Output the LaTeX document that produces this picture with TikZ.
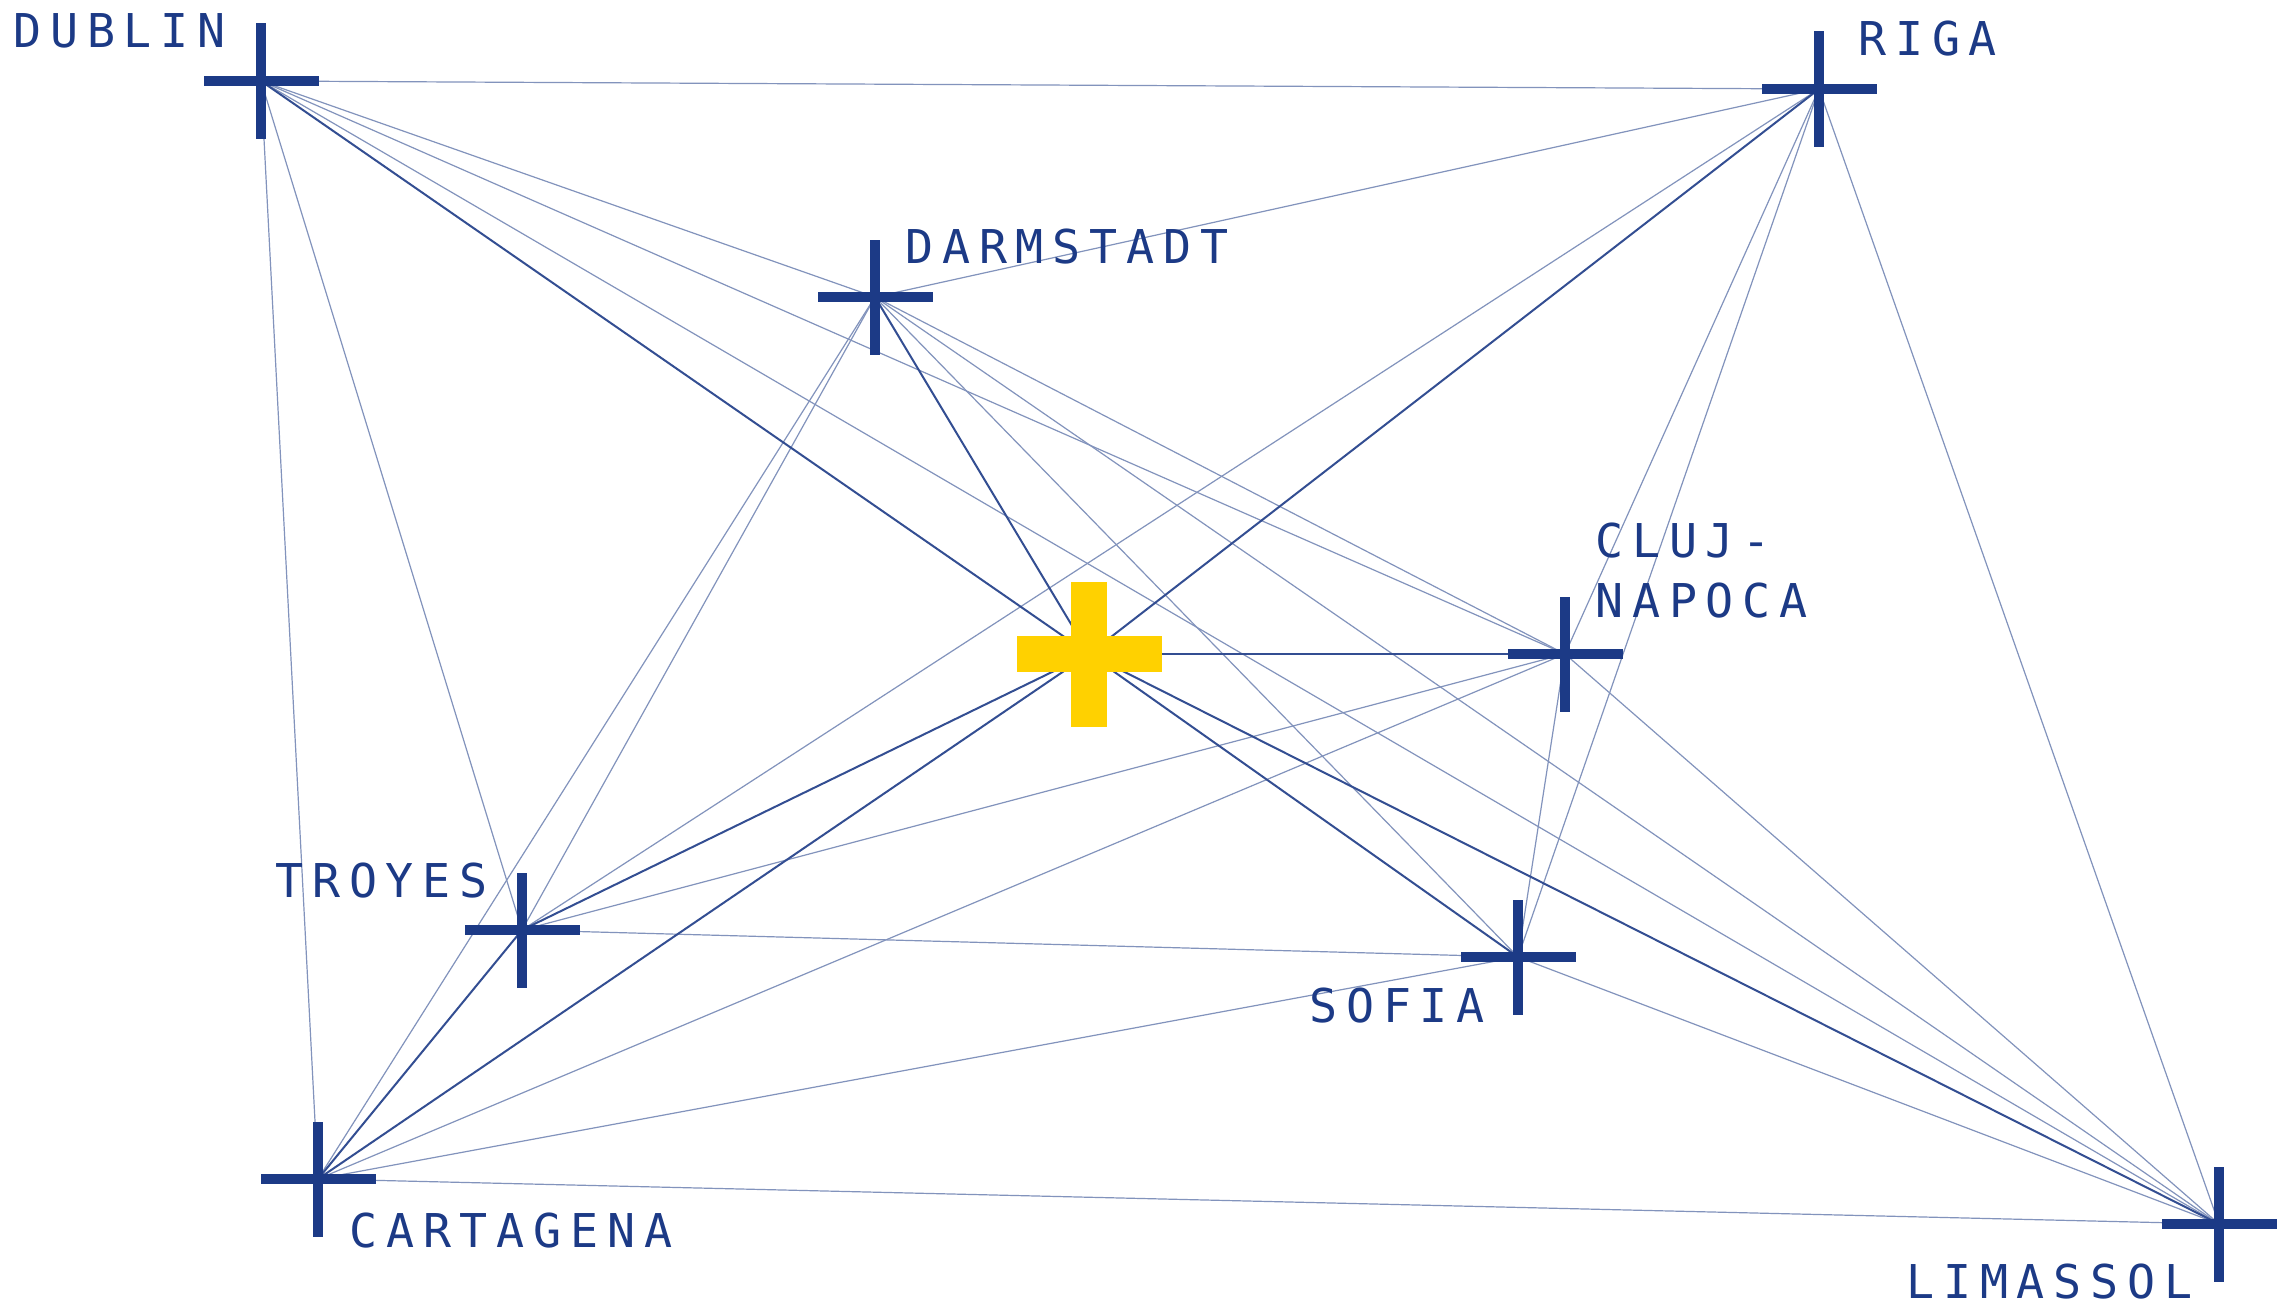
\documentclass[tikz,border=0pt]{standalone}
\usepackage{fontspec}
\newfontfamily\lblfont[LetterSpace=19]{DejaVu Sans Mono}
\definecolor{navy}{RGB}{28,58,134}
\definecolor{gold}{RGB}{255,209,0}
\tikzset{
  thinline/.style={draw=navy!55, line width=1.2pt},
  darkline/.style={draw=navy!90, line width=2pt},
  citycross/.pic={\fill[navy] (-57.5,-5.25) rectangle (57.5,5.25); \fill[navy] (-5.25,-57.5) rectangle (5.25,57.5);},
  hubcross/.pic={\fill[gold] (-72.5,-18) rectangle (72.5,18); \fill[gold] (-18,-72.5) rectangle (18,72.5);},
  lbl/.style={font=\lblfont\fontsize{46.6}{60}\selectfont, text=navy, inner sep=0pt, anchor=base west}
}
\begin{document}
\begin{tikzpicture}[x=1pt,y=-1pt]
\useasboundingbox[fill=white] (0,0) rectangle (2279,1306);
\coordinate (D) at (261,81);
\coordinate (R) at (1819,89);
\coordinate (A) at (875,297);
\coordinate (X) at (1089,654);
\coordinate (C) at (1565,654);
\coordinate (T) at (522,930);
\coordinate (S) at (1518,957);
\coordinate (K) at (318,1179);
\coordinate (L) at (2219,1224);
\foreach \a/\b in {D/R, D/A, D/K, D/T, D/C, D/L, R/A, R/T, R/C, R/S, R/L, A/C, A/S, A/L, A/T, A/K, C/T, C/K, C/S, C/L, T/S, S/K, S/L, K/L}
  \draw[thinline] (\a) -- (\b);
\foreach \b in {D,R,A,C,T,S,K,L}
  \draw[darkline] (X) -- (\b);
\draw[darkline] (K) -- (T);
\foreach \n in {D,R,A,C,T,S,K,L}
  \pic at (\n) {citycross};
\pic at (X) {hubcross};
\node[lbl] (lD) at (13,48) {DUBLIN};
\node[lbl] (lR) at (1858,56) {RIGA};
\node[lbl] (lA) at (905,263) {DARMSTADT};
\node[lbl] (lC1) at (1595,557) {CLUJ-};
\node[lbl] (lC2) at (1595,617) {NAPOCA};
\node[lbl] (lT) at (275,897) {TROYES};
\node[lbl] (lS) at (1309,1022) {SOFIA};
\node[lbl] (lK) at (349,1247) {CARTAGENA};
\node[lbl] (lL) at (1906,1298) {LIMASSOL};
\end{tikzpicture}
\end{document}
